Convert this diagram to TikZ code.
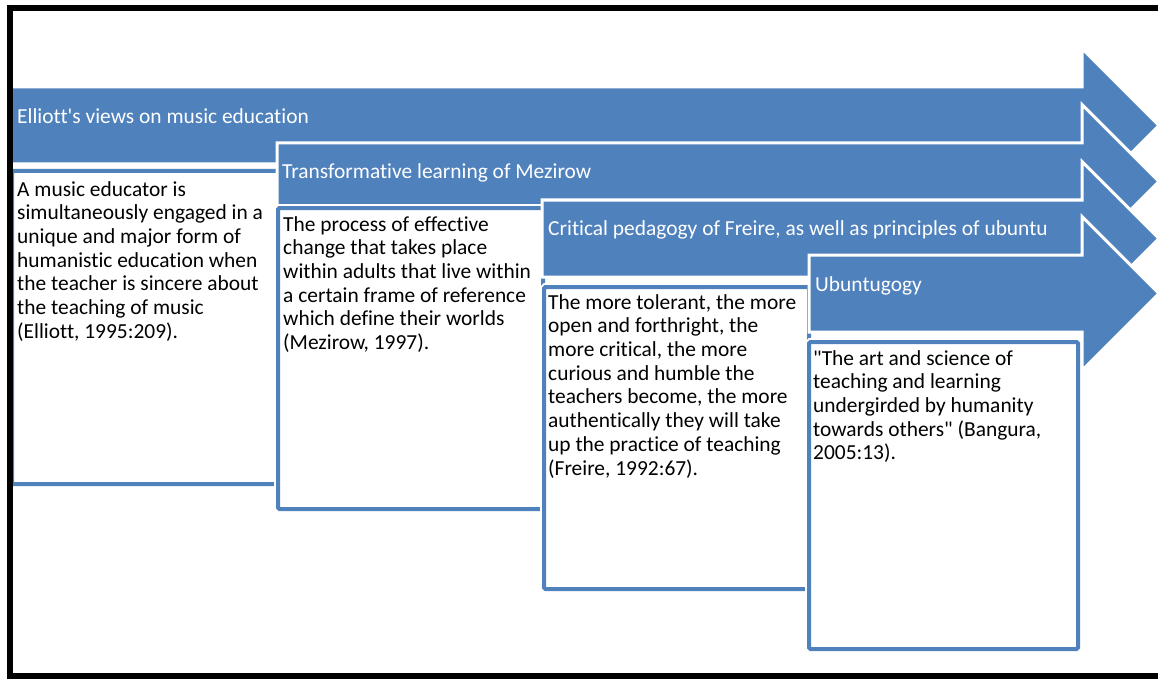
\documentclass[tikz,border=0pt]{standalone}
\usepackage{fontspec}
\setmainfont{Carlito}[Ligatures={TeXOff,CommonOff}]
\usetikzlibrary{positioning}
\definecolor{stepblue}{RGB}{79,129,189}

\begin{document}
\begin{tikzpicture}[x=1bp, y=-1bp,
    arrowshape/.style = {fill=stepblue, draw=white, line width=3bp, line join=miter},
    textbox/.style = {draw=stepblue, fill=white, line width=4bp, rounded corners=1.5bp,
      anchor=north west, inner sep=0pt, preaction={draw=white, line width=8bp}},
    head/.style = {anchor=west, text=white, inner sep=0pt, text height=15bp, text depth=5bp,
      font=\fontsize{21.5}{23.8}\selectfont},
    body/.style = {align=left, inner sep=0pt, font=\fontsize{21.5}{23.8}\selectfont}]

      \useasboundingbox (0,0) rectangle (1158,681);
      \clip (0,0) rectangle (1158,681);

      % Step 1
      \path[arrowshape] (10,87) -- (1082,87) -- (1082,48.5) -- (1159,125.5) -- (1082,202.5)
        -- (1082,164) -- (10,164) -- cycle;
      \node[head] (h1) at (17,119) {Elliott's views on music education};
      \node[textbox, minimum width=266bp, minimum height=313bp] (b1) at (10,169) {};
      \node[body, below right=12bp and 7bp of b1.north west] (t1) {A music educator is\\
        simultaneously engaged in a\\ unique and major form of\\ humanistic education when\\
        the teacher is sincere about\\ the teaching of music\\ (Elliott, 1995:209).};

      % Step 2
      \path[arrowshape] (277,143) -- (1082,143) -- (1082,104.5) -- (1159,181.5) -- (1082,258.5)
        -- (1082,220) -- (277,220) -- cycle;
      \node[head] (h2) at (282,174) {Transformative learning of Mezirow};
      \node[textbox, minimum width=265bp, minimum height=301bp] (b2) at (276,206) {};
      \node[body, below right=10bp and 7bp of b2.north west] (t2) {The process of effective\\
        change that takes place\\ within adults that live within\\ a certain frame of reference\\
        which define their worlds\\ (Mezirow, 1997).};

      % Step 3
      \path[arrowshape] (542,200) -- (1082,200) -- (1082,161.5) -- (1159,238.5) -- (1082,315.5)
        -- (1082,277) -- (542,277) -- cycle;
      \node[head] (h3) at (548,230.5) {Critical pedagogy of Freire, as well as principles of ubuntu};
      \node[textbox, minimum width=265bp, minimum height=302bp] (b3) at (542,285) {};
      \node[body, below right=9bp and 6bp of b3.north west] (t3) {The more tolerant, the more\\
        open and forthright, the\\ more critical, the more\\ curious and humble the\\
        teachers become, the more\\ authentically they will take\\ up the practice of teaching\\
        (Freire, 1992:67).};

      % Step 4
      \path[arrowshape] (809,255) -- (1082,255) -- (1082,216.5) -- (1159,293.5) -- (1082,370.5)
        -- (1082,332) -- (809,332) -- cycle;
      \node[head] (h4) at (815,286.5) {Ubuntugogy};
      \node[textbox, minimum width=269bp, minimum height=307bp] (b4) at (807,340) {};
      \node[body, below right=10bp and 6bp of b4.north west] (t4) {"The art and science of\\
        teaching and learning\\ undergirded by humanity\\ towards others" (Bangura,\\ 2005:13).};

      % Frame
      \draw[line width=6bp] (10,8.5) rectangle (1180,676);

    \end{tikzpicture}
\end{document}
